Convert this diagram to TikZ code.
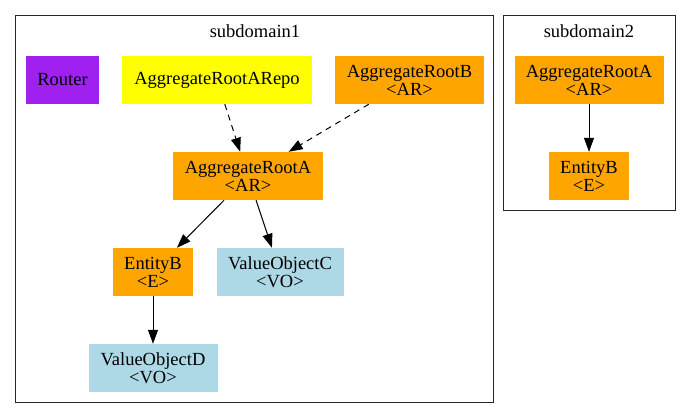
\documentclass[tikz,border=0pt]{standalone}
\usepackage{fontspec}
\setmainfont{Liberation Serif}
\usetikzlibrary{arrows.meta}
\definecolor{gvpurple}{HTML}{A020F0}
\definecolor{gvyellow}{HTML}{FFFF00}
\definecolor{gvorange}{HTML}{FFA500}
\definecolor{gvblue}{HTML}{ADD8E6}
\begin{document}
\begin{tikzpicture}[
    x=1pt, y=-1pt,
    box/.style={
        rectangle, draw=none, minimum height=48pt, inner sep=0pt,
        align=center, font=\fontsize{18.5}{18}\selectfont
    },
    router/.style={box, fill=gvpurple},
    repo/.style={box, fill=gvyellow},
    root/.style={box, fill=gvorange},
    entity/.style={box, fill=gvorange},
    valueobj/.style={box, fill=gvblue},
    cluster/.style={draw=black!85, line width=1pt},
    clabel/.style={font=\fontsize{18.5}{18}\selectfont},
    owns/.style={-{Triangle[length=14pt,width=10pt]}, line width=1pt},
    uses/.style={owns, dash pattern=on 6pt off 5pt}
]
\useasboundingbox (0,0) rectangle (691,419);

% Subdomains
\draw[cluster] (15.5,15.5) rectangle (493.5,402.5);
\node[clabel] (sub1) at (255,31) {subdomain1};
\draw[cluster] (503.5,15.5) rectangle (675,211);
\node[clabel] (sub2) at (589,31) {subdomain2};

% subdomain1
\node[router, minimum width=73pt] (router) at (62.5,80) {Router};
\node[repo, minimum width=190pt] (repo) at (217,80) {AggregateRootARepo};
\node[root, minimum width=149pt] (arb) at (409.5,80) {AggregateRootB\\<AR>};
\node[root, minimum width=150pt] (ara) at (248,176) {AggregateRootA\\<AR>};
\node[entity, minimum width=80pt] (entb) at (153,272) {EntityB\\<E>};
\node[valueobj, minimum width=127pt] (voc) at (280,272) {ValueObjectC\\<VO>};
\node[valueobj, minimum width=129pt] (vod) at (153,368) {ValueObjectD\\<VO>};

% subdomain2
\node[root, minimum width=149pt] (araTwo) at (589,80) {AggregateRootA\\<AR>};
\node[entity, minimum width=80pt] (entbTwo) at (589,176) {EntityB\\<E>};

% Relationships
\draw[uses] (repo) -- (ara);
\draw[uses] (arb) -- (ara);
\draw[owns] (ara) -- (entb);
\draw[owns] (ara) -- (voc);
\draw[owns] (entb) -- (vod);
\draw[owns] (araTwo) -- (entbTwo);

\end{tikzpicture}
\end{document}
